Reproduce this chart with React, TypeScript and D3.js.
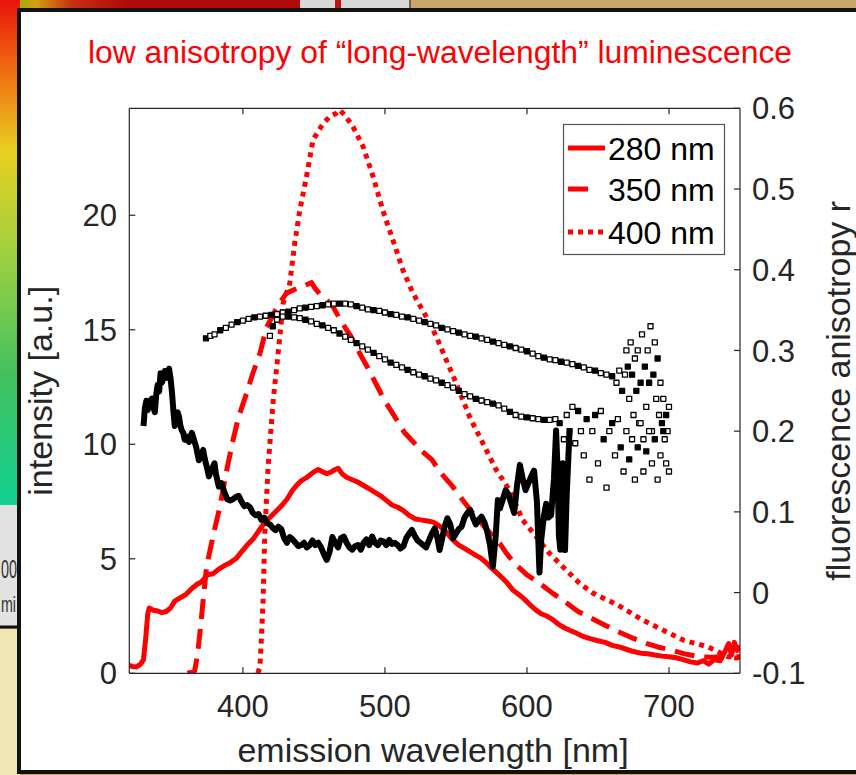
import React from "react";
import * as d3 from "d3";

// ---------- DATA ----------
const title = "low anisotropy of \u201clong-wavelength\u201d luminescence";
const xLabel = "emission wavelength [nm]";
const yLeftLabel = "intensity [a.u.]";
const yRightLabel = "fluorescence anisotropy r";
const xTicks = [400, 500, 600, 700];
const yLeftTicks = [0, 5, 10, 15, 20];
const yRightTicks = [-0.1, 0, 0.1, 0.2, 0.3, 0.4, 0.5, 0.6];
const yRightTickLabels = ["-0.1", "0", "0.1", "0.2", "0.3", "0.4", "0.5", "0.6"];
const legendLabels = ["280 nm", "350 nm", "400 nm"];

// excitation 280 nm emission spectrum [wavelength, intensity]
const ex280: [number, number][] = [
  [320, 0.35], [322, 0.3], [325, 0.28], [328, 0.4], [330, 0.6], [331.5, 1.5], [333, 2.6], [334, 2.85],
  [337, 2.75], [340, 2.72], [343, 2.65], [346, 2.7], [349, 2.85], [352, 3.15], [356, 3.3], [360, 3.45],
  [364, 3.7], [368, 3.9], [371, 4.0], [375, 4.3], [379, 4.35], [383, 4.55], [387, 4.7], [391, 4.83],
  [395, 5.0], [399, 5.3], [403, 5.6], [407, 5.85], [411, 6.2], [415, 6.55], [419, 6.8], [423, 7.05],
  [427, 7.3], [431, 7.6], [435, 8.0], [438, 8.22], [441, 8.4], [445, 8.55], [449, 8.75], [453, 8.9],
  [456, 8.8], [459, 8.72], [462, 8.78], [465, 8.9], [467, 8.95], [470, 8.7], [473, 8.56], [477, 8.45],
  [481, 8.35], [485, 8.2], [489, 8.05], [493, 7.9], [497, 7.75], [501, 7.55], [505, 7.35], [509, 7.25],
  [513, 7.1], [517, 6.9], [521, 6.75], [525, 6.7], [530, 6.65], [534, 6.6], [538, 6.45], [541, 6.3],
  [544, 6.1], [548, 5.82], [552, 5.6], [556, 5.45], [560, 5.3], [564, 5.15], [567, 5.05], [571, 4.85],
  [575, 4.6], [578, 4.43], [582, 4.2], [586, 3.95], [590, 3.64], [594, 3.45], [598, 3.25], [602, 3.0],
  [606, 2.78], [610, 2.6], [614, 2.5], [618, 2.35], [622, 2.15], [626, 2.0], [630, 1.88], [635, 1.75],
  [640, 1.6], [645, 1.5], [650, 1.42], [655, 1.35], [660, 1.22], [665, 1.15], [670, 1.05], [675, 0.95],
  [680, 0.88], [685, 0.85], [690, 0.8], [695, 0.75], [700, 0.72], [705, 0.68], [710, 0.6], [715, 0.5],
  [720, 0.45], [724, 0.55], [728, 0.4], [732, 0.6], [736, 0.55], [739, 0.9], [742, 1.3], [744, 0.8],
  [746, 1.35], [748, 1.0], [750, 1.2],
];

// excitation 350 nm emission spectrum
const ex350: [number, number][] = [
  [361, 0], [366, 0.1], [368, 0.8], [369.7, 1.75], [372, 3.2], [374.4, 4.65], [379, 6.0], [383.8, 7.28],
  [388, 8.7], [393.1, 10.2], [397, 11.2], [402.6, 12.23], [407, 13.1], [412, 13.97], [416.6, 15.1],
  [420, 15.5], [425, 16.1], [430.7, 16.6], [436, 16.75], [442, 16.9], [446, 17.0], [448.3, 17.06],
  [451, 16.8], [455, 16.5], [459, 16.3], [463.5, 16.0], [468, 15.5], [472.9, 15.0], [475.9, 14.73],
  [482, 14.0], [488, 13.33], [494, 12.6], [499.8, 11.9], [507, 11.2], [513.9, 10.5], [520, 10.1],
  [526, 9.7], [533, 9.33], [540, 8.7], [547.8, 8.15], [555, 7.55], [561.9, 6.99], [570, 6.4],
  [580.7, 5.68], [586, 5.2], [592.4, 4.73], [600, 4.3], [609, 3.93], [618, 3.5], [628.2, 3.06],
  [636, 2.7], [645.4, 2.4], [655, 2.1], [664, 1.82], [674, 1.55], [684, 1.31], [692, 1.15],
  [701.4, 1.02], [711, 0.85], [721.3, 0.72], [730, 0.7], [738.8, 0.72], [747.4, 0.67], [750, 0.7],
];

// excitation 400 nm emission spectrum
const ex400: [number, number][] = [
  [410.5, 0], [412, 0.29], [413, 1.5], [414.2, 3.2], [415.4, 6.1], [417.7, 9.0], [421.3, 11.9],
  [424.8, 13.97], [428.3, 16.16], [433, 17.03], [436.5, 18.78], [440, 20.2], [444.8, 21.7],
  [449.4, 23.3], [456.4, 24.0], [461, 24.3], [465.8, 24.45], [468.2, 24.6], [472, 24.35],
  [477.5, 23.87], [484.6, 23.0], [491.6, 21.7], [498.6, 20.2], [505.7, 18.9], [512.7, 17.6],
  [519.7, 16.6], [529.1, 15.57], [536.2, 14.7], [543.2, 13.68], [550.2, 12.66], [559.6, 11.2],
  [569, 10.04], [578.4, 8.88], [587.7, 8.0], [597, 6.69], [606.5, 5.97], [615.8, 5.24],
  [627.6, 4.51], [637, 3.93], [646.8, 3.49], [664, 2.98], [681.3, 2.33], [695.7, 1.89],
  [710, 1.45], [727.3, 1.16], [741.7, 0.72], [750, 0.72],
];

// total intensity (black, left axis)
const blackIntensity: [number, number][] = [
  [330, 10.8], [331, 11.6], [332, 11.9], [333, 11.5], [334, 11.9], [335, 11.7], [336, 12.0], [337, 11.6],
  [338, 11.4], [339, 12.2], [340, 12.6], [341, 12.3], [342, 13.1], [343, 12.7], [344, 12.9], [345, 13.2],
  [346, 12.9], [347, 13.0], [348, 13.3], [349, 12.9], [350, 12.3], [351, 11.5], [352, 10.8], [353, 11.0],
  [354, 11.4], [355, 11.2], [356, 10.8], [357, 10.6], [358, 10.5], [359, 10.2], [360, 10.35], [362, 10.1],
  [364, 10.5], [365, 10.3], [367, 9.9], [369, 9.3], [370, 9.5], [372, 9.75], [373, 9.4], [375, 8.9],
  [376, 8.6], [378, 8.9], [380, 9.17], [381, 8.7], [383, 8.15], [385, 8.3], [387, 7.9], [389, 7.6],
  [391, 7.55], [393, 7.6], [395, 7.7], [397, 7.75], [399, 7.5], [401, 7.3], [403, 7.35], [405, 7.25],
  [407, 7.0], [409, 6.9], [411, 6.95], [413, 6.7], [415, 6.8], [417, 6.55], [419, 6.5], [421, 6.35],
  [423, 6.25], [425, 6.4], [427, 6.3], [429, 5.9], [431, 5.7], [433, 5.95], [435, 5.85], [437, 5.7],
  [439, 5.55], [441, 5.6], [443, 5.7], [445, 5.5], [447, 5.6], [449, 5.8], [451, 5.6], [453, 5.7],
  [455, 5.5], [457, 5.2], [459, 4.95], [461, 5.3], [463, 5.95], [465, 5.7], [467, 5.5], [469, 5.9],
  [471, 5.97], [473, 5.7], [475, 5.5], [477, 5.4], [479, 5.55], [481, 5.6], [483, 5.4], [485, 5.7],
  [487, 5.85], [489, 5.6], [491, 5.97], [493, 5.7], [495, 5.6], [497, 5.8], [499, 5.75], [501, 5.6],
  [503, 5.82], [505, 5.65], [507, 5.7], [509, 5.6], [511, 5.45], [513, 5.55], [515, 5.9], [517, 6.1],
  [519, 6.26], [521, 6.0], [523, 5.8], [525, 5.7], [527, 5.6], [529, 5.5], [531, 5.8], [533, 6.1],
  [535, 6.33], [537, 5.9], [538.5, 5.38], [540, 5.8], [542, 6.4], [544, 6.77], [546, 6.5], [548, 5.9],
  [550, 6.1], [552, 6.3], [554, 6.4], [556, 6.8], [558, 7.0], [560, 7.13], [562, 6.8], [564, 6.5],
  [566, 6.7], [568, 6.84], [570, 6.6], [572, 6.2], [574, 5.6], [576, 4.65], [578, 6.0], [579.5, 7.57],
  [581, 7.2], [583, 7.6], [585, 8.0], [587, 7.8], [589, 7.4], [591, 7.0], [593, 8.2], [595, 9.1],
  [597, 8.5], [599, 8.0], [601, 8.3], [603, 8.6], [605, 8.85], [607, 7.5], [608.8, 4.4], [610, 5.8],
  [612, 6.9], [613.5, 7.4], [615, 6.8], [617, 6.9], [619, 8.5], [620.5, 10.6], [621.5, 9.0],
  [622.5, 6.0], [623.5, 5.4], [624.5, 7.5], [625.2, 9.17], [626, 7.0], [626.8, 5.38], [628, 7.8],
  [629.9, 10.48],
];

// anisotropy (right axis), two series
const anisoUpper: [number, number][] = [
  [374, 0.315], [377, 0.318], [380, 0.32], [384, 0.325], [388, 0.328], [392, 0.332], [396, 0.335],
  [400, 0.337], [404, 0.339], [408, 0.341], [412, 0.342], [416, 0.343], [420, 0.344], [424, 0.345],
  [428, 0.347], [432, 0.348], [436, 0.35], [440, 0.352], [444, 0.353], [448, 0.354], [452, 0.355],
  [456, 0.356], [460, 0.357], [464, 0.358], [468, 0.358], [472, 0.358], [476, 0.357], [480, 0.355],
  [484, 0.353], [488, 0.351], [492, 0.35], [496, 0.349], [500, 0.347], [504, 0.345], [508, 0.344],
  [512, 0.342], [516, 0.341], [520, 0.339], [524, 0.337], [528, 0.335], [532, 0.333], [536, 0.331],
  [540, 0.328], [544, 0.326], [548, 0.324], [552, 0.322], [556, 0.32], [560, 0.318], [564, 0.317],
  [568, 0.315], [572, 0.313], [576, 0.311], [580, 0.309], [584, 0.307], [588, 0.305], [592, 0.303],
  [596, 0.301], [600, 0.299], [604, 0.296], [608, 0.293], [612, 0.291], [616, 0.289], [620, 0.288],
  [624, 0.286], [628, 0.285], [632, 0.283], [636, 0.281], [640, 0.279], [644, 0.276], [648, 0.275],
  [652, 0.272], [656, 0.27], [660, 0.268], [663, 0.26], [665, 0.275], [667, 0.25], [669, 0.27],
  [670, 0.3], [671, 0.28], [672, 0.24], [673, 0.31], [674, 0.27], [675, 0.22], [676, 0.29],
  [677, 0.25], [678, 0.3], [679, 0.21], [680, 0.26], [681, 0.32], [682, 0.19], [683, 0.28],
  [684, 0.23], [685, 0.3], [686, 0.26], [687, 0.33], [688, 0.2], [689, 0.27], [690, 0.31],
  [691, 0.24], [692, 0.29], [693, 0.22], [694, 0.26], [695, 0.21], [696, 0.24], [697, 0.19],
  [698, 0.22], [699, 0.2], [700, 0.23],
];
const anisoLower: [number, number][] = [
  [419, 0.318], [421, 0.33], [424, 0.338], [428, 0.342], [432, 0.342], [436, 0.341], [440, 0.34],
  [444, 0.338], [448, 0.336], [452, 0.333], [456, 0.331], [460, 0.328], [464, 0.325], [468, 0.321],
  [472, 0.317], [476, 0.313], [480, 0.309], [484, 0.305], [488, 0.301], [492, 0.297], [496, 0.293],
  [500, 0.289], [504, 0.285], [508, 0.282], [512, 0.279], [516, 0.276], [520, 0.273], [524, 0.27],
  [528, 0.268], [532, 0.265], [536, 0.263], [540, 0.26], [544, 0.257], [548, 0.254], [552, 0.25],
  [556, 0.246], [560, 0.243], [564, 0.24], [568, 0.238], [572, 0.236], [576, 0.234], [580, 0.232],
  [584, 0.228], [588, 0.224], [592, 0.22], [596, 0.218], [600, 0.217], [604, 0.216], [608, 0.215],
  [612, 0.214], [616, 0.214], [620, 0.215], [623, 0.21], [626, 0.19], [628, 0.22], [630, 0.2],
  [632, 0.23], [634, 0.185], [636, 0.225], [638, 0.2], [640, 0.17], [642, 0.215], [644, 0.14],
  [646, 0.2], [648, 0.22], [650, 0.16], [652, 0.225], [654, 0.19], [656, 0.13], [658, 0.2],
  [660, 0.21], [662, 0.17], [664, 0.215], [666, 0.18], [668, 0.15], [670, 0.2], [672, 0.165],
  [674, 0.19], [676, 0.14], [678, 0.18], [680, 0.21], [682, 0.15], [684, 0.175], [686, 0.2],
  [688, 0.16], [690, 0.19], [692, 0.14], [694, 0.17], [696, 0.2], [698, 0.16], [700, 0.15],
];

// ---------- LAYOUT ----------
const W = 856;
const H = 775;
const plot = { left: 129.3, right: 740, top: 108.3, bottom: 673.3 };
const FONT = "'Liberation Sans', Arial, Helvetica, sans-serif";
const TXT = "#262626";

export default function App() {
  const x = d3.scaleLinear().domain([320, 750]).range([plot.left, plot.right]);
  const yL = d3.scaleLinear().domain([0, 24.67]).range([plot.bottom, plot.top]);
  const yR = d3.scaleLinear().domain([-0.1, 0.6]).range([plot.bottom, plot.top]);
  const lineL = d3
    .line<[number, number]>()
    .x((d) => x(d[0]))
    .y((d) => yL(d[1]));

  const ms = 5;
  return (
    <svg
      width={W}
      height={H}
      viewBox={`0 0 ${W} ${H}`}
      style={{ position: "absolute", left: 0, top: 0, display: "block" }}
      fontFamily={FONT}
    >
      <defs>
        <linearGradient id="leftStrip" x1="0" y1="0" x2="0" y2="1">
          <stop offset="0" stopColor="#e8140a" />
          <stop offset="0.12" stopColor="#f06010" />
          <stop offset="0.3" stopColor="#e8d020" />
          <stop offset="0.5" stopColor="#a0d040" />
          <stop offset="0.75" stopColor="#40c060" />
          <stop offset="1" stopColor="#10d090" />
        </linearGradient>
        <linearGradient id="topStrip" x1="0" y1="0" x2="1" y2="0">
          <stop offset="0" stopColor="#e81010" />
          <stop offset="0.03" stopColor="#90b010" />
          <stop offset="0.1" stopColor="#d0a010" />
          <stop offset="0.2" stopColor="#c83010" />
          <stop offset="0.35" stopColor="#b00a0a" />
        </linearGradient>
        <clipPath id="plotClip">
          <rect x={plot.left} y={plot.top - 4} width={plot.right - plot.left} height={plot.bottom - plot.top + 4} />
        </clipPath>
      </defs>

      {/* background outside the figure window */}
      <rect x={0} y={0} width={W} height={H} fill="#c8a86a" />
      <rect x={0} y={0} width={360} height={12} fill="url(#topStrip)" />
      <rect x={300} y={0} width={110} height={12} fill="#d8d8d8" />
      <rect x={335} y={0} width={6} height={12} fill="#c01010" />
      <line x1={410} y1={0} x2={410} y2={12} stroke="#444" strokeWidth={1.5} />
      <rect x={0} y={0} width={20} height={505} fill="url(#leftStrip)" />
      <rect x={0} y={505} width={20} height={123} fill="#e2e2e2" />
      <text x={1} y={578} fontSize={26} fill="#333" textLength={16} lengthAdjust="spacingAndGlyphs">00</text>
      <text x={1} y={612} fontSize={22} fill="#333" textLength={15} lengthAdjust="spacingAndGlyphs">mi</text>
      <line x1={0} y1={627} x2={20} y2={627} stroke="#111" strokeWidth={3} />
      <rect x={0} y={629} width={20} height={146} fill="#efe6b4" />

      {/* figure panel */}
      <rect x={19} y={10} width={W + 10} height={762} fill="#ffffff" stroke="#111" strokeWidth={4} />

      {/* title */}
      <text x={88} y={63} fontSize={31} fill="#ff0000" textLength={704} lengthAdjust="spacingAndGlyphs">
        {title}
      </text>

      {/* data */}
      <g clipPath="url(#plotClip)" fill="none" strokeLinejoin="round">
        <path d={lineL(ex280) || ""} stroke="#ff0000" strokeWidth={5} />
        <path d={lineL(ex350) || ""} stroke="#ff0000" strokeWidth={5} strokeDasharray="20,10" />
        <path d={lineL(ex400) || ""} stroke="#ff0000" strokeWidth={5} strokeDasharray="5,5" />
        <path d={lineL(blackIntensity) || ""} stroke="#000000" strokeWidth={6} />
        {anisoUpper.map((d, i) => (
          <rect
            key={"u" + i}
            x={x(d[0]) - ms / 2}
            y={yR(d[1]) - ms / 2}
            width={ms}
            height={ms}
            fill={i % 3 === 0 ? "#000" : "#fff"}
            stroke="#000"
            strokeWidth={1.3}
          />
        ))}
        {anisoLower.map((d, i) => (
          <rect
            key={"l" + i}
            x={x(d[0]) - ms / 2}
            y={yR(d[1]) - ms / 2}
            width={ms}
            height={ms}
            fill={i % 3 === 1 ? "#000" : "#fff"}
            stroke="#000"
            strokeWidth={1.3}
          />
        ))}
      </g>

      {/* axes box */}
      <g stroke={TXT} strokeWidth={1.2} fill="none">
        <line x1={plot.left} y1={plot.bottom} x2={plot.right} y2={plot.bottom} />
        <line x1={plot.left} y1={plot.top} x2={plot.right} y2={plot.top} />
        <line x1={plot.left} y1={plot.top} x2={plot.left} y2={plot.bottom} />
        <line x1={plot.right} y1={plot.top} x2={plot.right} y2={plot.bottom} />
        {xTicks.map((t) => (
          <g key={"xt" + t}>
            <line x1={x(t)} x2={x(t)} y1={plot.bottom} y2={plot.bottom - 6} />
            <line x1={x(t)} x2={x(t)} y1={plot.top} y2={plot.top + 6} />
          </g>
        ))}
        {yLeftTicks.map((t) => (
          <line key={"yl" + t} x1={plot.left} x2={plot.left + 6} y1={yL(t)} y2={yL(t)} />
        ))}
        {yRightTicks.map((t) => (
          <line key={"yr" + t} x1={plot.right} x2={plot.right - 6} y1={yR(t)} y2={yR(t)} />
        ))}
      </g>

      {/* tick labels */}
      <g fontSize={31} fill={TXT}>
        {xTicks.map((t) => (
          <text key={"xl" + t} x={x(t)} y={717} textAnchor="middle">
            {t}
          </text>
        ))}
        {yLeftTicks.map((t) => (
          <text key={"yll" + t} x={117} y={yL(t)} dy="0.36em" textAnchor="end">
            {t}
          </text>
        ))}
        {yRightTicks.map((t, i) => (
          <text key={"yrl" + t} x={752} y={yR(t)} dy="0.36em" textAnchor="start">
            {yRightTickLabels[i]}
          </text>
        ))}
      </g>

      {/* axis labels */}
      <text x={433} y={762} fontSize={34} fill={TXT} textAnchor="middle">
        {xLabel}
      </text>
      <text
        transform={`translate(52, ${(plot.top + plot.bottom) / 2}) rotate(-90)`}
        fontSize={34}
        fill={TXT}
        textAnchor="middle"
      >
        {yLeftLabel}
      </text>
      <text
        transform={`translate(850, ${(plot.top + plot.bottom) / 2}) rotate(-90)`}
        fontSize={34}
        fill={TXT}
        textAnchor="middle"
      >
        {yRightLabel}
      </text>

      {/* legend */}
      <g>
        <rect x={563.5} y={124.5} width={161} height={130} fill="#fff" stroke="#555" strokeWidth={1.2} />
        <line x1={568} x2={605} y1={148} y2={148} stroke="#ff0000" strokeWidth={5} />
        <line x1={568} x2={588} y1={189} y2={189} stroke="#ff0000" strokeWidth={5} />
        <line x1={568} x2={604} y1={232} y2={232} stroke="#ff0000" strokeWidth={5} strokeDasharray="5,5" />
        {legendLabels.map((l, i) => (
          <text key={l} x={608} y={[148, 189, 232][i]} dy="0.36em" fontSize={32} fill="#000">
            {l}
          </text>
        ))}
      </g>
    </svg>
  );
}
